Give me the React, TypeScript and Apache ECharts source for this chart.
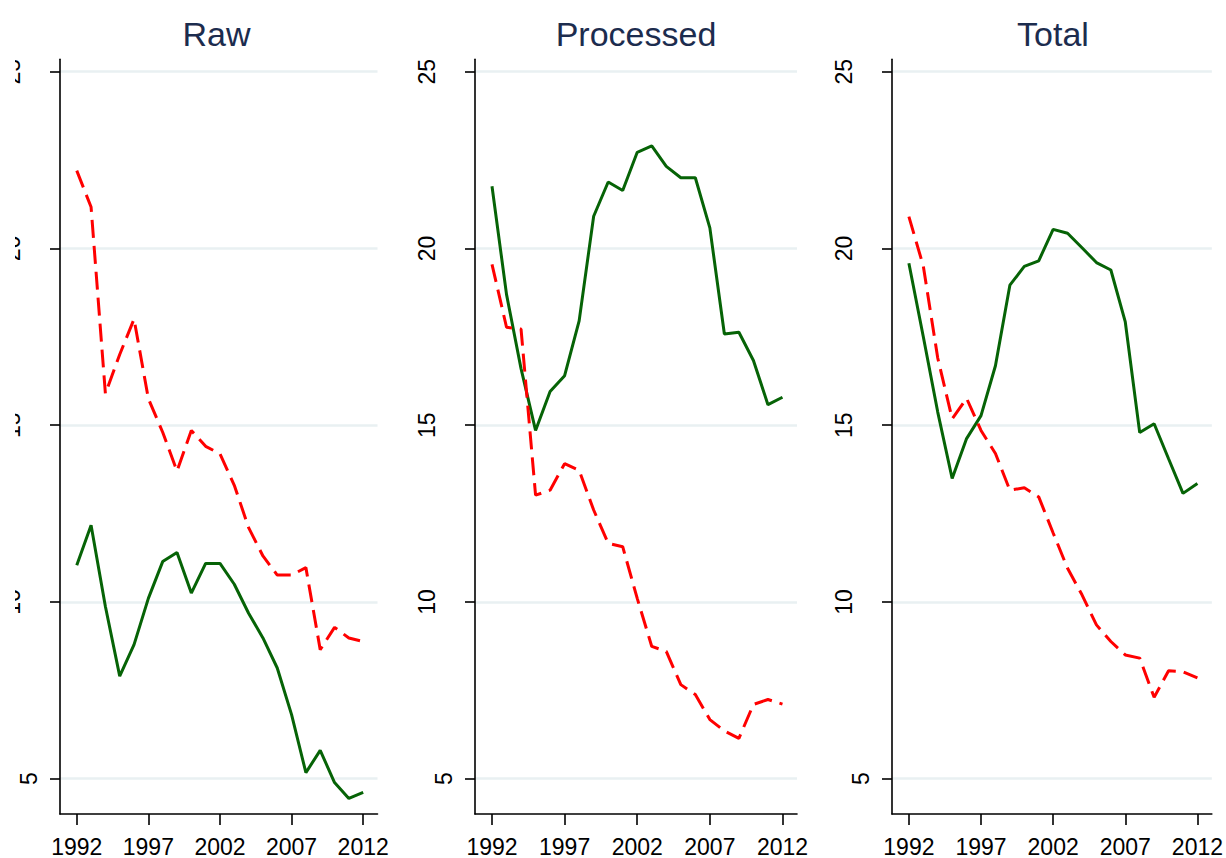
import React, { useEffect, useRef } from "react";
import * as echarts from "echarts";

const years = [1992, 1993, 1994, 1995, 1996, 1997, 1998, 1999, 2000, 2001, 2002, 2003, 2004, 2005, 2006, 2007, 2008, 2009, 2010, 2011, 2012];

const panelTitles = ["Raw", "Processed", "Total"];

const rawGreen = [11.04, 12.17, 9.87, 7.9, 8.79, 10.1, 11.14, 11.4, 10.25, 11.09, 11.09, 10.5, 9.68, 8.98, 8.13, 6.81, 5.17, 5.8, 4.89, 4.44, 4.61];
const rawRed = [22.2, 21.17, 15.89, 17.0, 18.0, 15.75, 14.8, 13.7, 14.85, 14.4, 14.19, 13.3, 12.1, 11.3, 10.76, 10.76, 10.97, 8.65, 9.28, 8.98, 8.88];

const procGreen = [21.76, 18.7, 16.6, 14.85, 15.95, 16.4, 17.95, 20.91, 21.88, 21.64, 22.72, 22.9, 22.32, 22.0, 22.0, 20.58, 17.58, 17.63, 16.83, 15.58, 15.79];
const procRed = [19.55, 17.77, 17.72, 13.02, 13.16, 13.91, 13.72, 12.6, 11.66, 11.56, 10.1, 8.74, 8.6, 7.66, 7.38, 6.67, 6.35, 6.14, 7.1, 7.24, 7.11];

const totGreen = [19.58, 17.5, 15.37, 13.49, 14.62, 15.27, 16.68, 18.96, 19.49, 19.65, 20.54, 20.43, 20.02, 19.6, 19.39, 17.92, 14.79, 15.04, 14.05, 13.07, 13.35];
const totRed = [20.9, 19.5, 16.9, 15.18, 15.76, 14.85, 14.2, 13.16, 13.23, 12.97, 11.95, 10.95, 10.2, 9.35, 8.88, 8.5, 8.41, 7.3, 8.05, 8.02, 7.85];

const xTicks = [1992, 1997, 2002, 2007, 2012];
const yTicks = [5, 10, 15, 20, 25];

const greenSeries = [rawGreen, procGreen, totGreen];
const redSeries = [rawRed, procRed, totRed];

const FONT = 'Arial, "Liberation Sans", sans-serif';
const GREEN = "#066306";
const RED = "#ff0000";

export default function App() {
  const ref = useRef<HTMLDivElement>(null);

  useEffect(() => {
    if (!ref.current) return;
    const chart = echarts.init(ref.current, undefined, { renderer: "svg" });

    const lefts = [55.5, 475, 892];
    const plotW = 322;
    const plotTop = 59.3;
    const plotH = 757.4;

    const grids = lefts.map((l) => ({ left: l, top: plotTop, width: plotW, height: plotH, containLabel: false }));

    const xAxes = lefts.map((_, i) => ({
      type: "value",
      gridIndex: i,
      min: 1990.83,
      max: 2013,
      axisLine: { show: true, onZero: false, lineStyle: { color: "#000", width: 1.6 } },
      axisTick: { show: true, length: 11, customValues: xTicks, lineStyle: { color: "#000", width: 1.6 } },
      axisLabel: {
        show: true,
        customValues: xTicks,
        margin: 21,
        fontSize: 23,
        color: "#000",
        fontFamily: FONT,
        formatter: (v: number) => String(v),
      },
      splitLine: { show: false },
    }));

    const yAxes = lefts.map((_, i) => ({
      type: "value",
      gridIndex: i,
      min: 4,
      max: 25.35,
      axisLine: { show: true, lineStyle: { color: "#000", width: 1.6 } },
      axisTick: { show: true, length: 10, customValues: yTicks, lineStyle: { color: "#000", width: 1.6 } },
      axisLabel: {
        show: true,
        customValues: yTicks,
        rotate: 90,
        margin: 20,
        fontSize: 23,
        color: "#000",
        fontFamily: FONT,
        formatter: (v: number) => (v >= 10 ? `{w|${v}}` : `{n|${v}}`),
        rich: {
          w: { fontSize: 23, color: "#000", fontFamily: FONT, padding: [0, 0, 17, 0] },
          n: { fontSize: 23, color: "#000", fontFamily: FONT },
        },
      },
      splitLine: { show: true, lineStyle: { color: "#e9f0f2", width: 2.5 } },
    }));

    const series: any[] = [];
    for (let i = 0; i < 3; i++) {
      series.push({
        type: "line",
        xAxisIndex: i,
        yAxisIndex: i,
        data: years.map((y, k) => [y, greenSeries[i][k]]),
        showSymbol: false,
        symbol: "none",
        lineStyle: { color: GREEN, width: 3 },
        itemStyle: { color: GREEN },
        z: 3,
      });
      series.push({
        type: "line",
        xAxisIndex: i,
        yAxisIndex: i,
        data: years.map((y, k) => [y, redSeries[i][k]]),
        showSymbol: false,
        symbol: "none",
        lineStyle: { color: RED, width: 3, type: [18, 8] },
        itemStyle: { color: RED },
        z: 4,
      });
    }

    const graphics: any[] = panelTitles.map((t, i) => ({
      type: "text",
      x: lefts[i] + plotW / 2,
      y: 17,
      style: {
        text: t,
        textAlign: "center",
        textVerticalAlign: "top",
        fontSize: 34,
        fontFamily: FONT,
        fill: "#1c2c4e",
      },
      z: 10,
    }));
    graphics.push({
      type: "rect",
      shape: { x: 0, y: 40, width: 15, height: 600 },
      style: { fill: "#ffffff" },
      z: 100,
      silent: true,
    });

    chart.setOption({
      animation: false,
      backgroundColor: "#ffffff",
      grid: grids,
      xAxis: xAxes,
      yAxis: yAxes,
      series,
      graphic: graphics,
    });

    return () => chart.dispose();
  }, []);

  return (
    <div
      ref={ref}
      style={{ position: "absolute", left: 0, top: 0, width: 1226, height: 858 }}
    />
  );
}
